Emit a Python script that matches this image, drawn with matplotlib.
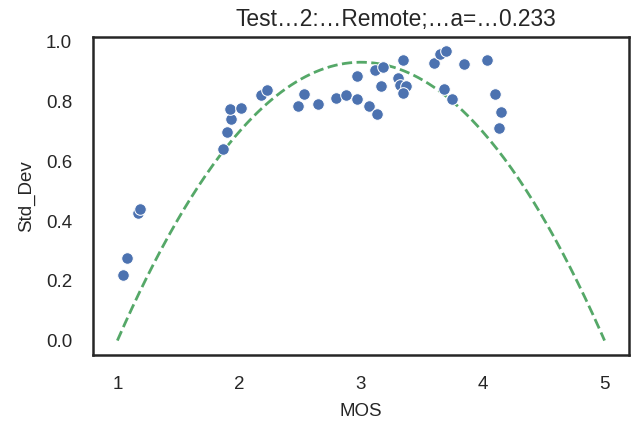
import numpy as np
import matplotlib
matplotlib.use("Agg")
import matplotlib.pyplot as plt
import seaborn as sns

# MOS / std-dev pairs
mos = [1.044, 1.080, 1.173, 1.189, 1.867, 1.903, 1.936, 1.922, 2.015, 2.177,
       2.226, 2.484, 2.533, 2.649, 2.792, 2.874, 2.970, 2.970, 3.066, 3.132,
       3.115, 3.184, 3.165, 3.307, 3.321, 3.368, 3.343, 3.343, 3.601, 3.650,
       3.700, 3.683, 3.747, 3.842, 4.037, 4.103, 4.152, 4.136]
std_dev = [0.218, 0.277, 0.428, 0.440, 0.641, 0.697, 0.743, 0.776, 0.778, 0.821,
           0.838, 0.785, 0.825, 0.791, 0.813, 0.821, 0.810, 0.887, 0.787, 0.757,
           0.907, 0.915, 0.854, 0.879, 0.857, 0.854, 0.830, 0.940, 0.931, 0.960,
           0.968, 0.844, 0.810, 0.927, 0.940, 0.824, 0.765, 0.713]

# SOS fit parameter and scale bounds
a = 0.233
scale_min, scale_max = 1, 5
title = "Test…2:…Remote;…a=…0.233"

sns.set_theme(style="white")
plt.rcParams["font.family"] = ["Liberation Sans", "DejaVu Sans"]

fig = plt.figure(figsize=(6.34, 4.24), dpi=100)
ax = fig.add_axes([0.1467, 0.1627, 0.8453, 0.75])

sns.scatterplot(x=mos, y=std_dev, s=70, color="#4C72B0", edgecolor="white",
                linewidth=0.75, ax=ax, zorder=3)

xs = np.linspace(scale_min, scale_max, 200)
ax.plot(xs, a * (xs - scale_min) * (scale_max - xs), color="#55A868",
        linestyle="--", linewidth=2, zorder=2)

ax.set_xticks([1, 2, 3, 4, 5])
ax.set_yticks([0.0, 0.2, 0.4, 0.6, 0.8, 1.0])
ax.tick_params(labelsize=13.5, pad=9)
ax.set_xlabel("MOS", fontsize=13.5, labelpad=7)
ax.set_ylabel("Std_Dev", fontsize=13.5, labelpad=8)
ax.set_title(title, x=0.565, fontsize=16.4, pad=8)
for sp in ax.spines.values():
    sp.set_linewidth(1.8)
    sp.set_color("#262626")

fig.savefig("out.png", dpi=100)
